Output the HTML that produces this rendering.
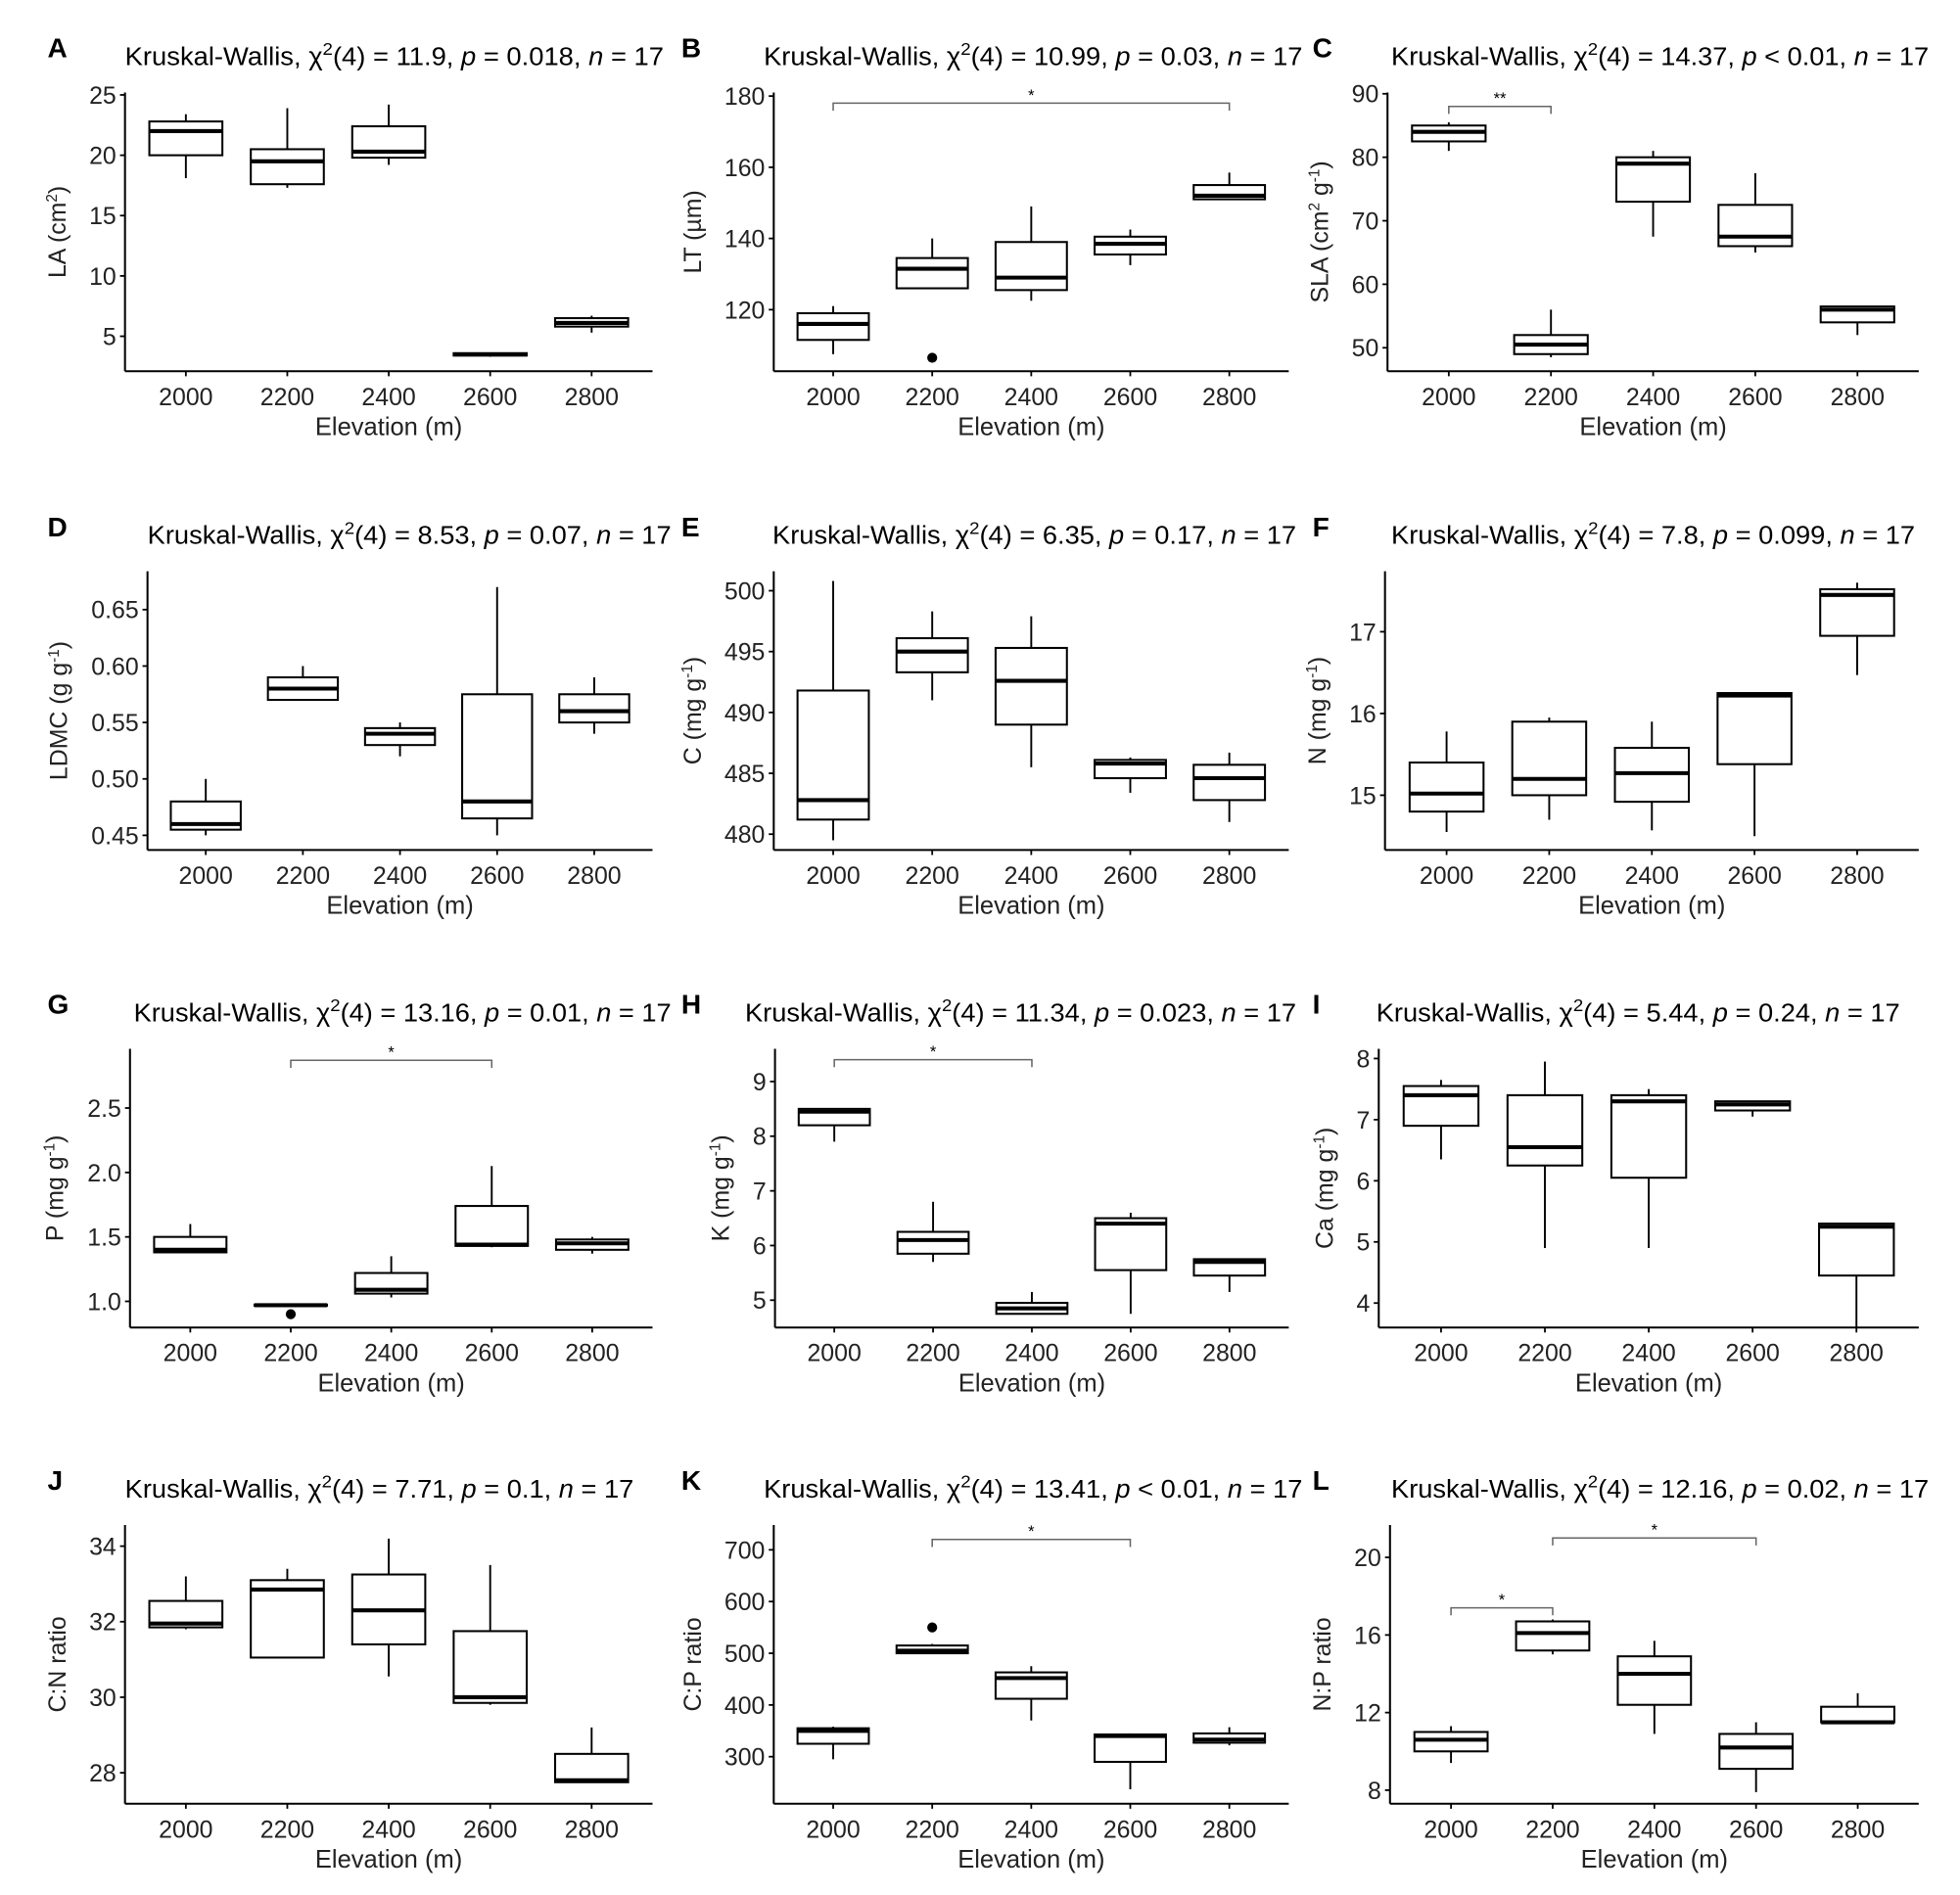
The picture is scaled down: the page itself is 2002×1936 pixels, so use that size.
<!DOCTYPE html>
<html><head><meta charset="utf-8"><style>
html,body{margin:0;padding:0;background:#fff;}
svg{display:block;font-family:"Liberation Sans",Arial,sans-serif;}
</style></head><body>
<svg id="fig" xmlns="http://www.w3.org/2000/svg" width="2002" height="1936" viewBox="0 0 1568 1516" preserveAspectRatio="none"></svg>
<script>
const categories = ["2000","2200","2400","2600","2800"];

// Panel A: LA
const A_min=[18.1,17.3,19.2,3.3,5.3], A_q1=[20,17.6,19.8,3.4,5.8], A_med=[22,19.5,20.3,3.5,6.1], A_q3=[22.8,20.5,22.4,3.6,6.5], A_max=[23.4,23.9,24.2,3.6,6.7];
const A_ticks=[5,10,15,20,25];
// Panel B: LT
const B_min=[107.5,126,122.5,132.5,151], B_q1=[111.5,126,125.5,135.5,151], B_med=[116,131.5,129,138.5,152], B_q3=[119,134.5,139,140.5,155], B_max=[121,140,149,142.5,158.5];
const B_out=[null,106.5,null,null,null];
const B_ticks=[120,140,160,180];
// Panel C: SLA
const C_min=[81,48.5,67.5,65,52], C_q1=[82.5,49,73,66,54], C_med=[84,50.5,79,67.5,56], C_q3=[85,52,80,72.5,56.5], C_max=[85.5,56,81,77.5,56.5];
const C_ticks=[50,60,70,80,90];
// Panel D: LDMC
const D_min=[0.45,0.57,0.52,0.45,0.54], D_q1=[0.455,0.57,0.53,0.465,0.55], D_med=[0.46,0.58,0.54,0.48,0.56], D_q3=[0.48,0.59,0.545,0.575,0.575], D_max=[0.50,0.60,0.55,0.67,0.59];
const D_ticks=["0.45","0.50","0.55","0.60","0.65"];
// Panel E: C
const E_min=[479.5,491,485.5,483.4,481], E_q1=[481.2,493.3,489,484.6,482.8], E_med=[482.8,495,492.6,485.8,484.6], E_q3=[491.8,496.1,495.3,486.1,485.7], E_max=[500.8,498.3,497.9,486.3,486.7];
const E_ticks=[480,485,490,495,500];
// Panel F: N
const F_min=[14.55,14.7,14.57,14.5,16.47], F_q1=[14.8,15,14.92,15.38,16.95], F_med=[15.02,15.2,15.27,16.22,17.45], F_q3=[15.4,15.9,15.58,16.25,17.52], F_max=[15.78,15.95,15.9,16.25,17.6];
const F_ticks=[15,16,17];
// Panel G: P
const G_min=[1.38,0.96,1.03,1.42,1.37], G_q1=[1.38,0.965,1.06,1.43,1.4], G_med=[1.40,0.97,1.09,1.44,1.45], G_q3=[1.5,0.975,1.22,1.74,1.48], G_max=[1.6,0.98,1.35,2.05,1.5];
const G_out=[null,0.90,null,null,null];
const G_ticks=["1.0","1.5","2.0","2.5"];
// Panel H: K
const H_min=[7.9,5.7,4.75,4.75,5.15], H_q1=[8.2,5.85,4.75,5.55,5.45], H_med=[8.45,6.1,4.85,6.4,5.7], H_q3=[8.5,6.25,4.95,6.5,5.75], H_max=[8.5,6.8,5.15,6.6,5.75];
const H_ticks=[5,6,7,8,9];
// Panel I: Ca
const I_min=[6.35,4.9,4.9,7.05,3.6], I_q1=[6.9,6.25,6.05,7.15,4.45], I_med=[7.4,6.55,7.3,7.25,5.25], I_q3=[7.55,7.4,7.4,7.3,5.3], I_max=[7.65,7.95,7.5,7.3,5.3];
const I_ticks=[4,5,6,7,8];
// Panel J: C:N
const J_min=[31.8,31.05,30.55,29.8,27.75], J_q1=[31.85,31.05,31.4,29.85,27.75], J_med=[31.95,32.85,32.3,30,27.8], J_q3=[32.55,33.1,33.25,31.75,28.5], J_max=[33.2,33.4,34.2,33.5,29.2];
const J_ticks=[28,30,32,34];
// Panel K: C:P
const K_min=[295,500,370,237,322], K_q1=[325,500,412,290,327], K_med=[350,505,452,340,333], K_q3=[355,515,463,343,345], K_max=[358,518,475,345,357];
const K_out=[null,550,null,null,null];
const K_ticks=[300,400,500,600,700];
// Panel L: N:P
const L_min=[9.4,15,10.9,7.9,11.5], L_q1=[10,15.2,12.4,9.1,11.5], L_med=[10.6,16.1,14,10.2,11.5], L_q3=[11,16.7,14.9,10.9,12.3], L_max=[11.3,16.8,15.7,11.5,13];
const L_ticks=[8,12,16,20];

const NS="http://www.w3.org/2000/svg";
const svg=document.getElementById('fig');
function el(tag,attrs,parent){const e=document.createElementNS(NS,tag);for(const k in attrs)e.setAttribute(k,attrs[k]);(parent||svg).appendChild(e);return e;}

const panels=[
 {id:"A",stat:"11.9",p:"0.018",pre:"= ",ylab:["LA (cm","2",")"],x0:100,right:522,row:0,t0:100,t1:531,min:A_min,q1:A_q1,med:A_med,q3:A_q3,max:A_max,ticks:A_ticks,dom:[2.1,25.2]},
 {id:"B",stat:"10.99",p:"0.03",pre:"= ",ylab:["LT (µm)"],x0:619,right:1031,row:0,t0:611,t1:1042,min:B_min,q1:B_q1,med:B_med,q3:B_q3,max:B_max,out:B_out,ticks:B_ticks,dom:[102.7,181],br:[[0,4,178,"*"]]},
 {id:"C",stat:"14.37",p:"0.01",pre:"< ",ylab:["SLA (cm","2"," g","-1",")"],x0:1110,right:1535,row:0,t0:1113,t1:1543,min:C_min,q1:C_q1,med:C_med,q3:C_q3,max:C_max,ticks:C_ticks,dom:[46.3,90.2],br:[[0,1,88,"**"]]},
 {id:"D",stat:"8.53",p:"0.07",pre:"= ",ylab:["LDMC (g g","-1",")"],x0:118,right:522,row:1,t0:118,t1:537,min:D_min,q1:D_q1,med:D_med,q3:D_q3,max:D_max,ticks:D_ticks,dom:[0.437,0.684]},
 {id:"E",stat:"6.35",p:"0.17",pre:"= ",ylab:["C (mg g","-1",")"],x0:619,right:1031,row:1,t0:618,t1:1037,min:E_min,q1:E_q1,med:E_med,q3:E_q3,max:E_max,ticks:E_ticks,dom:[478.7,501.6]},
 {id:"F",stat:"7.8",p:"0.099",pre:"= ",ylab:["N (mg g","-1",")"],x0:1108,right:1535,row:1,t0:1113,t1:1532,min:F_min,q1:F_q1,med:F_med,q3:F_q3,max:F_max,ticks:F_ticks,dom:[14.33,17.74]},
 {id:"G",stat:"13.16",p:"0.01",pre:"= ",ylab:["P (mg g","-1",")"],x0:104,right:522,row:2,t0:107,t1:537,min:G_min,q1:G_q1,med:G_med,q3:G_q3,max:G_max,out:G_out,ticks:G_ticks,dom:[0.797,2.96],br:[[1,3,2.87,"*"]]},
 {id:"H",stat:"11.34",p:"0.023",pre:"= ",ylab:["K (mg g","-1",")"],x0:620,right:1031,row:2,t0:596,t1:1037,min:H_min,q1:H_q1,med:H_med,q3:H_q3,max:H_max,ticks:H_ticks,dom:[4.5,9.6],br:[[0,2,9.4,"*"]]},
 {id:"I",stat:"5.44",p:"0.24",pre:"= ",ylab:["Ca (mg g","-1",")"],x0:1103,right:1535,row:2,t0:1101,t1:1520,min:I_min,q1:I_q1,med:I_med,q3:I_q3,max:I_max,ticks:I_ticks,dom:[3.6,8.16]},
 {id:"J",stat:"7.71",p:"0.1",pre:"= ",ylab:["C:N ratio"],x0:100,right:522,row:3,t0:100,t1:507,min:J_min,q1:J_q1,med:J_med,q3:J_q3,max:J_max,ticks:J_ticks,dom:[27.18,34.56]},
 {id:"K",stat:"13.41",p:"0.01",pre:"< ",ylab:["C:P ratio"],x0:619,right:1031,row:3,t0:611,t1:1042,min:K_min,q1:K_q1,med:K_med,q3:K_q3,max:K_max,out:K_out,ticks:K_ticks,dom:[209,748],br:[[1,3,720,"*"]]},
 {id:"L",stat:"12.16",p:"0.02",pre:"= ",ylab:["N:P ratio"],x0:1112,right:1535,row:3,t0:1113,t1:1543,min:L_min,q1:L_q1,med:L_med,q3:L_q3,max:L_max,ticks:L_ticks,dom:[7.3,21.67],br:[[0,1,17.4,"*"],[1,3,21.0,"*"]]}
];
const rowAxis=[297,680,1062,1443];
const letterX=[38,545,1050];
const FS=19.5;

panels.forEach((P,pi)=>{
  const col=pi%3;
  const g=el('g',{});
  
  
  const yb=rowAxis[P.row], yt=yb-223;
  const unit=(P.right-P.x0)/5.2;
  const xs=i=>P.x0+unit*(0.6+i);
  const ys=v=>yb-(v-P.dom[0])/(P.dom[1]-P.dom[0])*(yb-yt);
  const lt=el('text',{x:letterX[col],y:yt-28,'font-size':22,'font-weight':'bold'},g);
  
  
  lt.textContent=P.id;
  const tt=el('text',{x:P.t0,y:yt-22,'font-size':20.5,textLength:(P.t1-P.t0),lengthAdjust:'spacingAndGlyphs'},g);
  
  
  tt.innerHTML='Kruskal-Wallis, χ<tspan dy="-8" font-size="14">2</tspan><tspan dy="8">(4) = '+P.stat+', </tspan><tspan font-style="italic">p</tspan> '+P.pre+P.p+', <tspan font-style="italic">n</tspan> = 17';
  const ya=el('line',{x1:P.x0,y1:yt,x2:P.x0,y2:yb,stroke:'#000','stroke-width':1.6},g);
  
  
  const xa=el('line',{x1:P.x0,y1:yb,x2:P.right,y2:yb,stroke:'#000','stroke-width':1.6},g);
  
  
  let maxW=0;
  P.ticks.forEach(t=>{
    const v=parseFloat(t), y=ys(v);
    el('line',{x1:P.x0-4,y1:y,x2:P.x0,y2:y,stroke:'#000','stroke-width':1.4},g);
    const tl=el('text',{x:P.x0-7,y:y+7,'font-size':FS,'text-anchor':'end',fill:'#222'},g);
    
    
    tl.textContent=String(t);
    maxW=Math.max(maxW,String(t).length*10.8-(String(t).includes('.')?5:0));
  });
  categories.forEach((c,i)=>{
    el('line',{x1:xs(i),y1:yb,x2:xs(i),y2:yb+4,stroke:'#000','stroke-width':1.4},g);
    const xl=el('text',{x:xs(i),y:yb+27,'font-size':FS,'text-anchor':'middle',fill:'#222'},g);
    
    
    xl.textContent=c;
  });
  const xt=el('text',{x:(P.x0+P.right)/2,y:yb+51,'font-size':FS+0.5,'text-anchor':'middle',fill:'#222'},g);
  
  
  xt.textContent='Elevation (m)';
  const tx=P.x0-maxW-26, ty=(yt+yb)/2;
  const yl=el('text',{x:tx,y:ty,'font-size':FS,'text-anchor':'middle',fill:'#222',transform:'rotate(-90 '+tx+' '+ty+')'},g);
  
  
  let h='';
  P.ylab.forEach((s,k)=>{ if(k%2===1) h+='<tspan dy="-7" font-size="12">'+s+'</tspan>'; else h+='<tspan'+(k>0?' dy="7"':'')+'>'+s+'</tspan>'; });
  yl.innerHTML=h;
  const bw=unit*0.72;
  categories.forEach((c,i)=>{
    const bg=el('g',{},g);
    
    
    const cx=xs(i);
    el('line',{x1:cx,y1:ys(P.max[i]),x2:cx,y2:ys(P.q3[i]),stroke:'#000','stroke-width':1.5},bg);
    el('line',{x1:cx,y1:ys(P.q1[i]),x2:cx,y2:ys(P.min[i]),stroke:'#000','stroke-width':1.5},bg);
    el('rect',{x:cx-bw/2,y:ys(P.q3[i]),width:bw,height:Math.max(0.5,ys(P.q1[i])-ys(P.q3[i])),fill:'#fff',stroke:'#000','stroke-width':1.6},bg);
    el('line',{x1:cx-bw/2,y1:ys(P.med[i]),x2:cx+bw/2,y2:ys(P.med[i]),stroke:'#000','stroke-width':3.2},bg);
    if(P.out && P.out[i]!=null){
      const o=el('circle',{cx:cx,cy:ys(P.out[i]),r:4,fill:'#000'},bg);
      
      
    }
  });
  (P.br||[]).forEach(b=>{
    const bgr=el('g',{},g);
    
    
    const y=ys(b[2]), x1=xs(b[0]), x2=xs(b[1]);
    el('path',{d:`M${x1},${y+6}V${y}H${x2}V${y+6}`,fill:'none',stroke:'#666','stroke-width':1.2},bgr);
    const st=el('text',{x:(x1+x2)/2,y:y-2,'font-size':13,'text-anchor':'middle'},bgr);
    st.textContent=b[3];
  });
});
</script>
</body></html>
